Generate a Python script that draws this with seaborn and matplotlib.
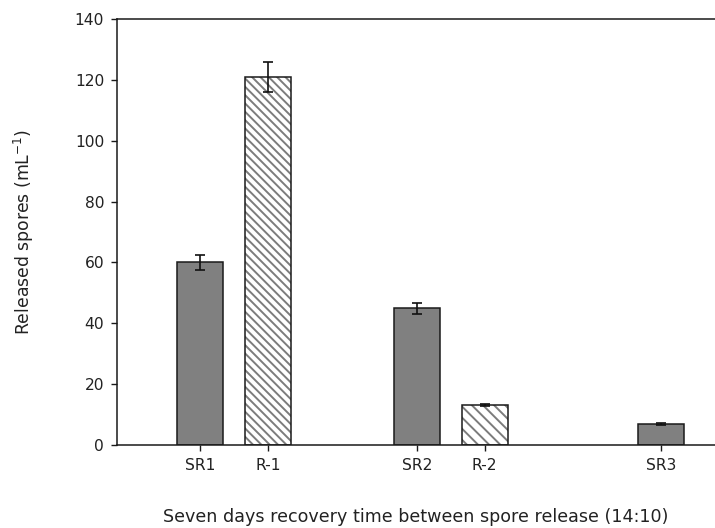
import matplotlib
matplotlib.use("Agg")
import matplotlib.pyplot as plt
import seaborn as sns
import pandas as pd
from matplotlib.colors import to_rgba

# ---- data ----
categories = ["SR1", "R-1", "SR2", "R-2", "SR3"]
released = [60.0, 121.0, 45.0, 13.2, 6.9]
errors = [2.6, 4.9, 1.8, 0.4, 0.4]
kind = ["SR", "R", "SR", "R", "SR"]

# layout (bar positions on a numeric axis)
xpos = [0.0, 1.0, 3.2, 4.2, 6.8]

sns.set_theme(style="ticks")
plt.rcParams["font.family"] = ["DejaVu Sans"]
plt.rcParams["hatch.linewidth"] = 1.4
plt.rcParams["hatch.color"] = "#7c7c7c"

DPI = 100
fig = plt.figure(figsize=(715 / DPI, 528 / DPI), dpi=DPI)
ax = fig.add_axes([117 / 715, 1 - 445 / 528, 1 - 117 / 715, (445 - 19) / 528])

df = pd.DataFrame({"x": xpos, "y": released, "cat": categories, "kind": kind})

sns.barplot(data=df, x="x", y="y", native_scale=True, width=0.68,
            color="#808080", edgecolor="#1a1a1a", linewidth=1.1,
            errorbar=None, ax=ax, saturation=1)

for patch, k in zip(ax.patches, kind):
    if k == "R":
        patch.set_facecolor("white")
        patch.set_hatch("\\\\\\\\" if patch.get_height() > 50 else "\\\\\\")
        if hasattr(patch, "set_hatchcolor"):
            try:
                patch.set_hatchcolor("#7c7c7c")
            except Exception:
                patch._hatch_color = to_rgba("#7c7c7c")
        else:
            patch._hatch_color = to_rgba("#7c7c7c")

ax.errorbar(xpos, released, yerr=errors, fmt="none", ecolor="#111111",
            elinewidth=1.2, capsize=3.6, capthick=1.2, zorder=5)

ax.set_xlim(-1.23, 7.6)
ax.set_ylim(0, 140)
ax.set_yticks(range(0, 141, 20))
ax.set_xticks(xpos)
ax.set_xticklabels(categories)

for side in ["left", "top", "bottom"]:
    ax.spines[side].set_visible(True)
    ax.spines[side].set_color("#1a1a1a")
    ax.spines[side].set_linewidth(1.1)
ax.spines["right"].set_visible(False)

ax.tick_params(axis="both", direction="out", length=4.3, width=1.0,
               color="#1a1a1a", labelsize=11.2, labelcolor="#222222", pad=5)

ax.set_ylabel(r"Released spores (mL$^{-1}$)", fontsize=12.4, color="#222222")
ax.set_xlabel("Seven days recovery time between spore release (14:10)",
              fontsize=12.6, color="#222222")
ax.yaxis.set_label_coords(-0.136, 0.5)
ax.xaxis.set_label_coords(0.5, -0.148)

fig.savefig("out.png", dpi=DPI, facecolor="white")
